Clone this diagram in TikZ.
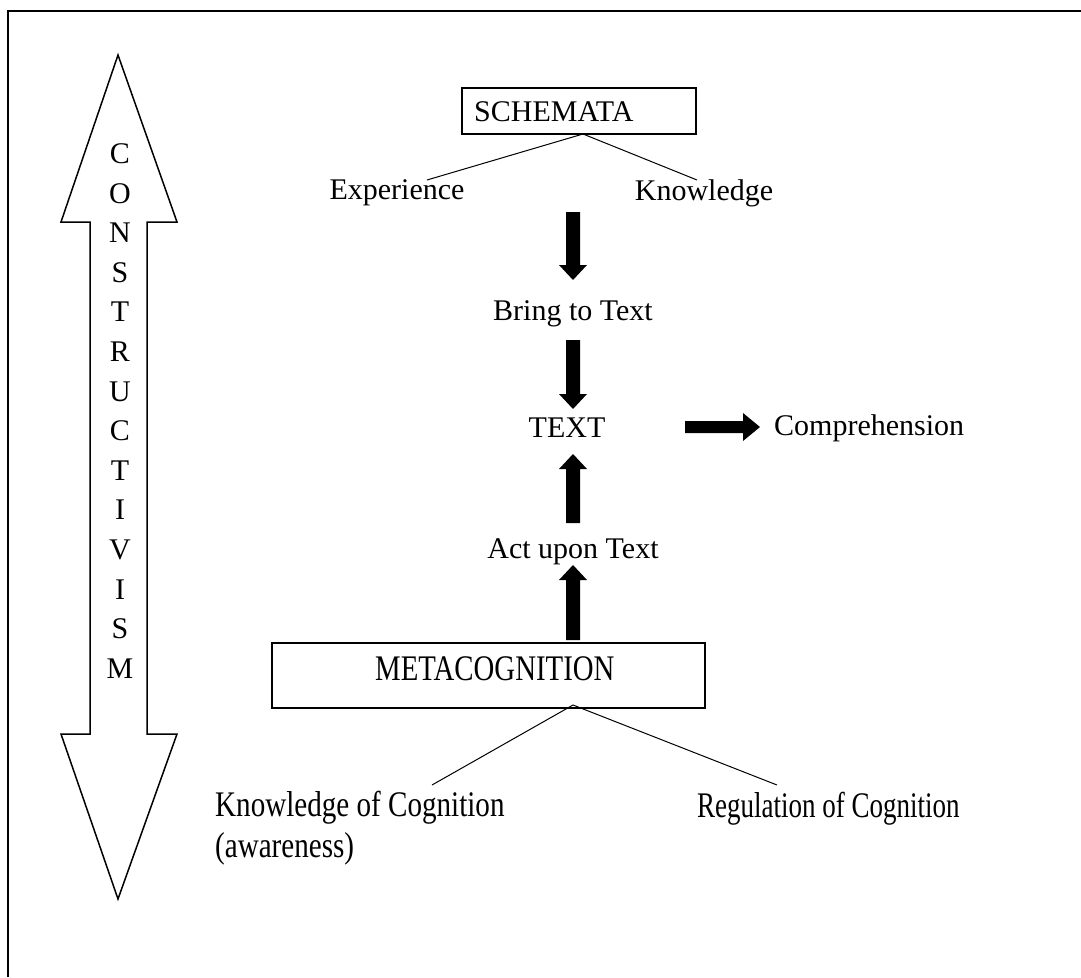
\documentclass[tikz,border=0pt]{standalone}
\usepackage{fontspec}
\setmainfont{Liberation Serif}
\begin{document}
\begin{tikzpicture}[x=1pt,y=-1pt,
  lbl/.style={inner sep=0pt,font=\fontsize{30}{36}\selectfont},
  boxed/.style={draw,line width=1.5pt,inner sep=0pt},
  thin/.style={line width=1pt}]
\useasboundingbox (0,0) rectangle (1081,977);
\fill[white] (0,0) rectangle (1081,977);
% frame (only top and left edges visible)
\draw[line width=1.5pt] (8,977) -- (8,11) -- (1081,11);
% big double arrow
\draw[line width=1.5pt,line join=miter] (118,55) -- (177,222) -- (147,222) -- (147,734) -- (177,734) -- (118,899)
  -- (61,734) -- (90,734) -- (90,222) -- (61,222) -- cycle;
\node[lbl,align=center,font=\fontsize{30}{39.6}\selectfont] (constr) at (120,411)
  {C\\O\\N\\S\\T\\R\\U\\C\\T\\I\\V\\I\\S\\M};
% SCHEMATA
\node[boxed,minimum width=234pt,minimum height=46pt] (schbox) at (579,111) {};
\node[lbl,anchor=west] (sch) at (474,112) {SCHEMATA};
\node[lbl] (exp) at (397,193) {Experience};
\node[lbl] (know) at (704,193) {Knowledge};
\coordinate (apex1) at (583,134);
\coordinate (expt) at (427,180);
\coordinate (knowt) at (697,180);
\draw[thin] (expt) -- (apex1) -- (knowt);
% middle column
\node[lbl] (bring) at (573,314) {Bring to Text};
\node[lbl] (text) at (567,428) {TEXT};
\node[lbl,anchor=west] (comp) at (774,428) {Comprehension};
\node[lbl] (act) at (573,552) {Act upon Text};
% block arrows
\newcommand{\darrow}[3]{% x, ytop, ytip
  \fill (#1-7,#2) -- (#1+7,#2) -- (#1+7,#3-15) -- (#1+14,#3-15) -- (#1,#3) -- (#1-14,#3-15) -- (#1-7,#3-15) -- cycle;}
\newcommand{\uarrow}[3]{% x, ybottom, ytip
  \fill (#1-7,#2) -- (#1+7,#2) -- (#1+7,#3+15) -- (#1+14,#3+15) -- (#1,#3) -- (#1-14,#3+15) -- (#1-7,#3+15) -- cycle;}
\darrow{573}{212}{280}
\darrow{573}{340}{409}
\uarrow{573}{523}{454}
\uarrow{573}{640}{565}
\fill (685,421) -- (743,421) -- (743,413) -- (760,427) -- (743,441) -- (743,433) -- (685,433) -- cycle;
% METACOGNITION
\node[boxed,minimum width=433pt,minimum height=65pt] (metabox) at (488.5,675.5) {};
\node[lbl,anchor=west] (meta) at (375,669) {\scalebox{0.96}[1.2]{METACOGNITION}};
\coordinate (apex2) at (573,705);
\coordinate (kct) at (432,785);
\coordinate (rct) at (777,785);
\draw[thin] (kct) -- (apex2) -- (rct);
\node[lbl,anchor=west] (kc) at (215,828) {\scalebox{0.97}[1.2]{\begin{tabular}{@{}l@{}}Knowledge of Cognition\\[-2pt](awareness)\end{tabular}}};
\node[lbl,anchor=west] (rc) at (697,809) {\scalebox{0.9}[1.2]{Regulation of Cognition}};
\end{tikzpicture}
\end{document}
